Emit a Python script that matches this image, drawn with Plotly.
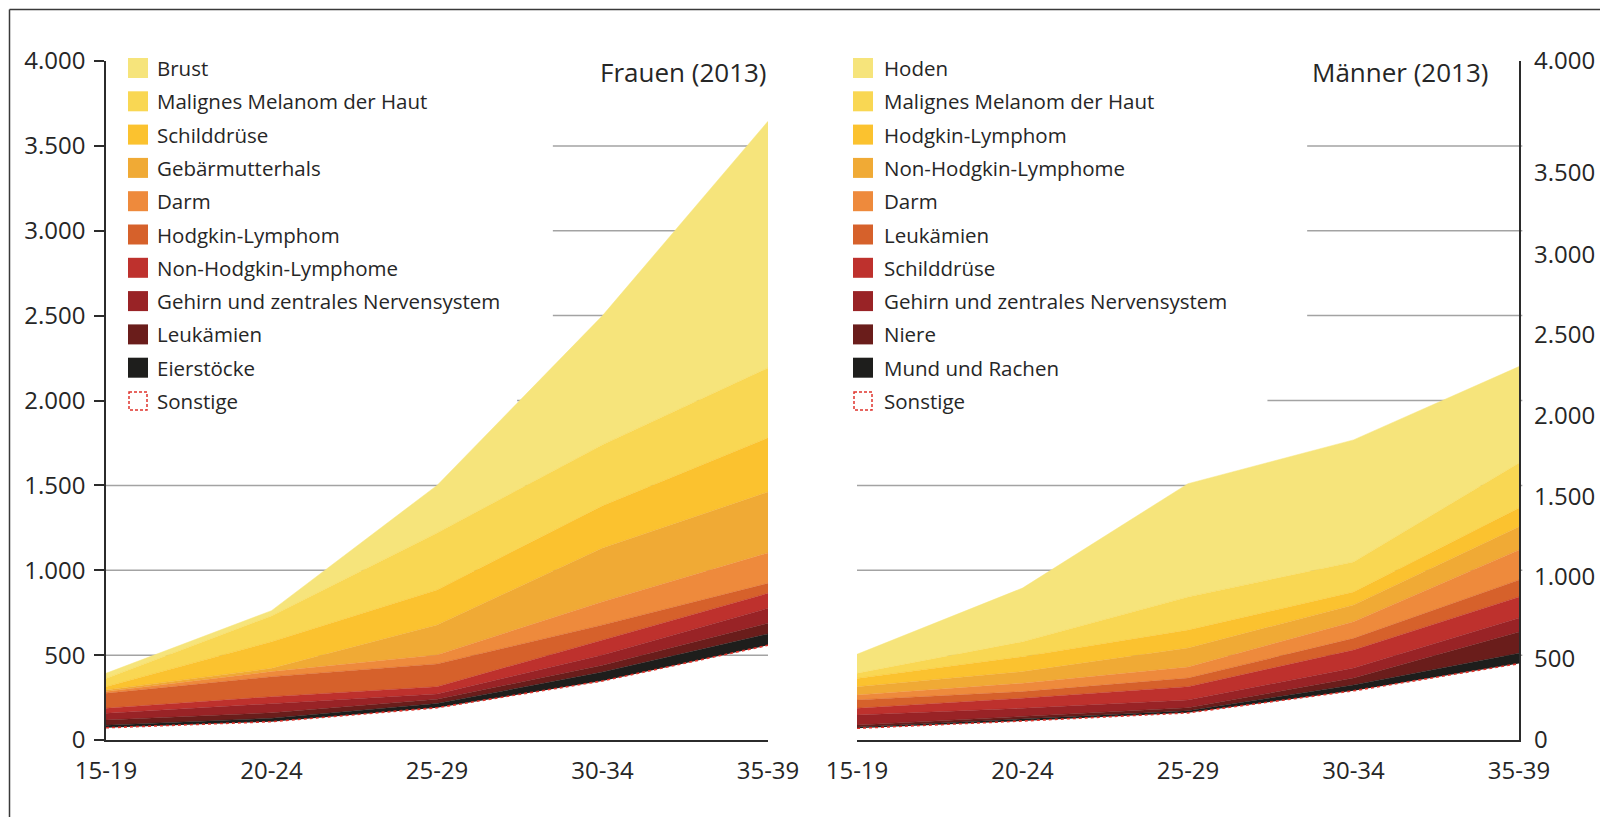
import plotly.graph_objects as go

# ---------------- data ----------------
age_groups = ["15-19", "20-24", "25-29", "30-34", "35-39"]

# Frauen (2013) – per-layer values, bottom to top
w_sonstige = [72, 108, 190, 348, 558]
w_eierstoecke = [15, 20, 25, 52, 67]
w_leukaemien = [31, 32, 25, 40, 63]
w_gehirn = [39, 56, 31, 61, 88]
w_nhl = [30, 39, 43, 88, 88]
w_hodgkin = [88, 118, 134, 89, 59]
w_darm = [10, 30, 53, 137, 179]
w_gebaermutterhals = [10, 19, 177, 316, 359]
w_schilddruese = [19, 157, 206, 249, 319]
w_melanom = [49, 152, 336, 360, 412]
w_brust = [30, 31, 280, 760, 1453]

# Männer (2013) – per-layer values, bottom to top
m_sonstige = [69, 112, 160, 290, 450]
m_mund = [7, 10, 12, 34, 61]
m_niere = [12, 15, 18, 41, 125]
m_gehirn = [59, 50, 46, 59, 83]
m_schilddruese = [40, 59, 78, 106, 124]
m_leukaemien = [49, 39, 51, 69, 100]
m_darm = [29, 49, 65, 98, 177]
m_nhl = [49, 69, 112, 99, 136]
m_hodgkin = [49, 88, 106, 76, 111]
m_melanom = [30, 88, 195, 177, 265]
m_hoden = [112, 316, 667, 719, 568]

y_tickvals = [0, 500, 1000, 1500, 2000, 2500, 3000, 3500, 4000]
y_ticktext = ["0", "500", "1.000", "1.500", "2.000", "2.500", "3.000", "3.500", "4.000"]
# the right-hand labels in the original are set on a slightly compressed scale
right_label_positions = [0, 477, 960, 1432, 1909, 2386, 2858, 3341, 4000]

# ---------------- styling ----------------
OFF = 8                      # page body margin of the browser
W, H = 1608 - OFF, 817 - OFF
FONT = "Open Sans"
TXT = "#262626"
AX = "#2b2b2b"
GRID = "#a3a3a3"
C = ["#f6e47b", "#f9d753", "#fbc22f", "#f0aa35", "#ee8a3c", "#d6612b",
     "#be312d", "#992326", "#6a1d1b", "#1e1e1c"]
SON = "#e0332c"

women = [("Brust", w_brust), ("Malignes Melanom der Haut", w_melanom),
         ("Schilddrüse", w_schilddruese), ("Gebärmutterhals", w_gebaermutterhals),
         ("Darm", w_darm), ("Hodgkin-Lymphom", w_hodgkin),
         ("Non-Hodgkin-Lymphome", w_nhl), ("Gehirn und zentrales Nervensystem", w_gehirn),
         ("Leukämien", w_leukaemien), ("Eierstöcke", w_eierstoecke)]
men = [("Hoden", m_hoden), ("Malignes Melanom der Haut", m_melanom),
       ("Hodgkin-Lymphom", m_hodgkin), ("Non-Hodgkin-Lymphome", m_nhl),
       ("Darm", m_darm), ("Leukämien", m_leukaemien), ("Schilddrüse", m_schilddruese),
       ("Gehirn und zentrales Nervensystem", m_gehirn), ("Niere", m_niere),
       ("Mund und Rachen", m_mund)]

def px_x(x):
    return (x - OFF) / W

def px_y(y):
    return 1 - (y - OFF) / H

fig = go.Figure()

def add_stack(series, sonst, xa, ya, grp):
    fig.add_trace(go.Scatter(x=age_groups, y=sonst, name="Sonstige", stackgroup=grp,
                             xaxis=xa, yaxis=ya, mode="lines",
                             line=dict(color=SON, width=1.6, dash="3px,3px"),
                             fillcolor="rgba(255,255,255,0)", showlegend=False))
    for (name, vals), col in reversed(list(zip(series, C))):
        fig.add_trace(go.Scatter(x=age_groups, y=vals, name=name, stackgroup=grp,
                                 xaxis=xa, yaxis=ya, mode="lines",
                                 line=dict(color=col, width=0.5),
                                 fillcolor=col, showlegend=False))

add_stack(women, w_sonstige, "x", "y", "w")
add_stack(men, m_sonstige, "x2", "y2", "m")

shapes = []
annotations = []

# frame
shapes.append(dict(type="line", xref="paper", yref="paper", x0=px_x(9.5), x1=1.01,
                   y0=px_y(9.5), y1=px_y(9.5), line=dict(color="#3a3a3a", width=1.5)))
shapes.append(dict(type="line", xref="paper", yref="paper", x0=px_x(9.5), x1=px_x(9.5),
                   y0=px_y(9.5), y1=-0.01, line=dict(color="#3a3a3a", width=1.5)))

# partial grid lines (kept clear of the legend)
grid_levels = [500, 1000, 1500, 2000, 2500, 3000, 3500]
grid_start_left = [0, 0, 0, 0.621, 0.675, 0.675, 0.675]
grid_start_right = [0, 0, 0, 0.62, 0.68, 0.68, 0.68]
for lv, s1, s2 in zip(grid_levels, grid_start_left, grid_start_right):
    shapes.append(dict(type="line", xref="x domain", yref="y", x0=s1, x1=1, y0=lv, y1=lv,
                       layer="below", line=dict(color=GRID, width=1.5)))
    shapes.append(dict(type="line", xref="x2 domain", yref="y2", x0=s2, x1=1.005, y0=lv, y1=lv,
                       layer="below", line=dict(color=GRID, width=1.5)))

# custom legends
def legend(series, x_sw, x_txt):
    rows = [(n, c) for (n, _), c in zip(series, C)] + [("Sonstige", None)]
    for i, (name, col) in enumerate(rows):
        yc = 68 + 33.3 * i
        if col is None:
            shapes.append(dict(type="rect", xref="paper", yref="paper",
                               x0=px_x(x_sw + 1), x1=px_x(x_sw + 19),
                               y0=px_y(yc - 9), y1=px_y(yc + 9), fillcolor="white",
                               line=dict(color=SON, width=1.5, dash="3px,2px")))
        else:
            shapes.append(dict(type="rect", xref="paper", yref="paper",
                               x0=px_x(x_sw), x1=px_x(x_sw + 20),
                               y0=px_y(yc - 10), y1=px_y(yc + 10), fillcolor=col,
                               line=dict(width=0)))
        annotations.append(dict(xref="paper", yref="paper", x=px_x(x_txt), y=px_y(yc),
                                text=name, showarrow=False, xanchor="left", yanchor="middle",
                                font=dict(family=FONT, size=20.5, color=TXT)))

legend(women, 128, 155)
legend(men, 853, 882)

annotations.append(dict(xref="paper", yref="paper", x=px_x(769), y=px_y(72), text="Frauen (2013)",
                        showarrow=False, xanchor="right", yanchor="middle",
                        font=dict(family=FONT, size=26, color=TXT)))
annotations.append(dict(xref="paper", yref="paper", x=px_x(1491), y=px_y(72), text="Männer (2013)",
                        showarrow=False, xanchor="right", yanchor="middle",
                        font=dict(family=FONT, size=26, color=TXT)))

ydom = [px_y(740), px_y(61)]
xaxis_common = dict(range=[0, 4], showline=True, linecolor=AX, linewidth=1.5, ticks="",
                    showgrid=False, zeroline=False, tickfont=dict(family=FONT, size=24, color=TXT),
                    ticklabelstandoff=8, fixedrange=True, automargin=False)

fig.update_layout(
    template="none",
    width=W, height=H, autosize=False,
    margin=dict(l=0, r=0, t=0, b=0, pad=0),
    paper_bgcolor="white", plot_bgcolor="rgba(0,0,0,0)",
    showlegend=False,
    xaxis=dict(domain=[px_x(106), px_x(768)], anchor="y", **xaxis_common),
    xaxis2=dict(domain=[px_x(857), px_x(1519)], anchor="y2", **xaxis_common),
    yaxis=dict(domain=ydom, anchor="x", range=[0, 4000], tickvals=y_tickvals, ticktext=y_ticktext,
               ticks="outside", ticklen=10, tickwidth=1.5, tickcolor=AX, showline=True,
               linecolor=AX, linewidth=1.5, showgrid=False, zeroline=False, automargin=False,
               tickfont=dict(family=FONT, size=24, color=TXT), ticklabelstandoff=4, fixedrange=True),
    yaxis2=dict(domain=ydom, anchor="x2", side="right", range=[0, 4000], showline=True,
                linecolor=AX, linewidth=1.5, showgrid=False, zeroline=False, ticks="",
                showticklabels=False, fixedrange=True, automargin=False),
    yaxis3=dict(overlaying="y2", anchor="x2", side="right", range=[0, 4000],
                tickvals=right_label_positions, ticktext=y_ticktext, showline=False,
                showgrid=False, zeroline=False, ticks="", automargin=False,
                tickfont=dict(family=FONT, size=24, color=TXT), ticklabelstandoff=14,
                fixedrange=True),
    shapes=shapes, annotations=annotations,
)

# invisible trace so that the overlay axis is drawn
fig.add_trace(go.Scatter(x=[age_groups[0]], y=[0], xaxis="x2", yaxis="y3", mode="markers",
                         marker=dict(opacity=0), showlegend=False, hoverinfo="skip"))

fig.write_html("out.html")
